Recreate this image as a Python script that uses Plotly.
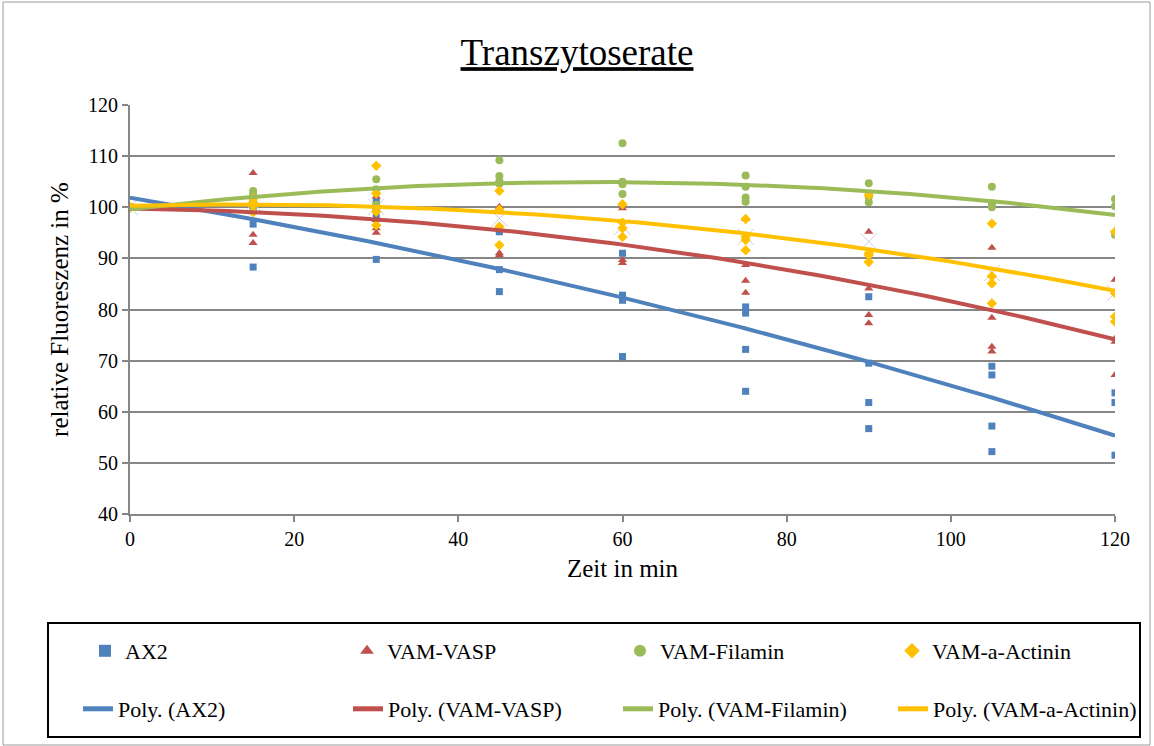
import numpy as np
import plotly.graph_objects as go

zeit = [0, 15, 30, 45, 60, 75, 90, 105, 120]

# Replikate je Zeitpunkt
ax2 = [
    [100, 101.0, 101.1, 95.5, 91.0, 80.5, 82.5, 68.9, 63.7],
    [100, 96.7, 100.1, 95.2, 82.8, 79.3, 69.5, 67.2, 61.8],
    [100, 88.3, 98.0, 87.8, 81.8, 72.2, 61.8, 57.2, 51.5],
    [100, 100.0, 89.8, 83.5, 70.8, 64.0, 56.7, 52.2, None],
]
vasp = [
    [100, 106.7, 102.1, 100.1, 100.5, 97.7, 95.2, 92.1, 85.8],
    [100, 99.0, 97.5, 99.5, 99.8, 88.7, 84.1, 78.4, 74.3],
    [100, 94.6, 95.9, 91.0, 89.7, 85.6, 78.9, 72.7, 73.7],
    [100, 93.0, 95.0, 90.6, 89.1, 83.3, 77.3, 71.8, 67.2],
]
filamin = [
    [100, 103.2, 105.5, 109.2, 112.5, 106.2, 104.7, 104.0, 101.6],
    [100, 102.5, 103.5, 106.1, 105.0, 104.0, 102.4, 100.8, 100.2],
    [100, 101.0, 100.5, 105.2, 104.5, 101.9, 102.0, 100.5, 94.6],
    [100, 100.0, 99.5, 104.6, 102.6, 101.1, 101.0, 100.0, None],
]
actinin = [
    [100, 101.7, 108.1, 103.2, 100.6, 97.7, 102.4, 96.8, 95.2],
    [100, 101.0, 102.7, 99.5, 97.0, 94.2, 91.0, 86.5, 83.2],
    [100, 100.5, 99.1, 96.2, 95.9, 93.6, 90.6, 85.1, 78.6],
    [100, 99.0, 96.5, 92.6, 94.2, 91.6, 89.3, 81.2, 77.6],
]
mittel = [100, 100.8, 100.1, 97.8, 96.2, 94.2, 93.3, 87.1, 83.2]

serien = [
    ("AX2", ax2, "#4F81BD", "square", 7),
    ("VAM-VASP", vasp, "#C0504D", "triangle-up", 8),
    ("VAM-Filamin", filamin, "#9BBB59", "circle", 8),
    ("VAM-a-Actinin", actinin, "#FFC000", "diamond", 8),
]

# Legendenpositionen (Pixel) je Spalte
leg_x_punkte = [85, 347, 620, 892]
leg_x_linien = [78, 348, 618, 893]

font = "Liberation Serif"
fig = go.Figure()

fig.add_trace(go.Scatter(x=zeit, y=mittel, mode="markers", showlegend=False,
                         marker=dict(symbol="x-thin-open", size=16, color="#CFCADF",
                                     line=dict(width=1, color="#CFCADF"))))

for i, (name, reps, col, sym, sz) in enumerate(serien):
    xs, ys = [], []
    for rep in reps:
        for t, v in zip(zeit, rep):
            if v is not None:
                xs.append(t)
                ys.append(v)
    lname = "legend" if i == 0 else "legend%d" % (i + 1)
    fig.add_trace(go.Scatter(x=xs, y=ys, mode="markers", name=name, legend=lname,
                             marker=dict(symbol=sym, size=sz, color=col)))

# polynomische Trendlinien (Ordnung 2), wie in Excel
tt = np.linspace(0, 120, 121)
for i, (name, reps, col, sym, sz) in enumerate(serien):
    xs = [t for rep in reps for t, v in zip(zeit, rep) if v is not None]
    ys = [v for rep in reps for v in rep if v is not None]
    coef = np.polyfit(xs, ys, 2)
    fig.add_trace(go.Scatter(x=tt, y=np.polyval(coef, tt), mode="lines",
                             name="Poly. (" + name + ")", legend="legend%d" % (i + 5),
                             line=dict(color=col, width=4)))

leg = dict(orientation="h", xanchor="left", yanchor="middle",
           font=dict(family=font, size=22, color="black"), bgcolor="rgba(0,0,0,0)",
           borderwidth=0, itemsizing="constant")
legenden = {}
for i in range(4):
    k1 = "legend" if i == 0 else "legend%d" % (i + 1)
    legenden[k1] = dict(leg, x=(leg_x_punkte[i] - 130) / 985, y=(514 - 651) / 409)
    legenden["legend%d" % (i + 5)] = dict(leg, x=(leg_x_linien[i] - 130) / 985,
                                          y=(514 - 709) / 409)

fig.update_layout(
    width=1154, height=746,
    margin=dict(l=130, r=39, t=105, b=232),
    paper_bgcolor="white", plot_bgcolor="white",
    font=dict(family=font, size=21, color="black"),
    title=dict(text="<u>Transzytoserate</u>", x=0.5, xanchor="center",
               y=0.93, yanchor="middle", font=dict(family=font, size=37)),
    shapes=[
        dict(type="rect", xref="paper", yref="paper",
             x0=(48 - 130) / 985, x1=(1140 - 130) / 985,
             y0=(514 - 737) / 409, y1=(514 - 623) / 409,
             line=dict(color="black", width=2)),
        dict(type="rect", xref="paper", yref="paper",
             x0=(3 - 130) / 985, x1=(1150 - 130) / 985,
             y0=(514 - 745) / 409, y1=(514 - 2) / 409,
             line=dict(color="#9A9A9A", width=1)),
    ],
    **legenden,
)
fig.update_xaxes(range=[0, 120], dtick=20, showgrid=False, showline=True,
                 linecolor="#868686", linewidth=2, ticks="outside", ticklen=6,
                 tickcolor="#868686", tickwidth=2, zeroline=False,
                 tickfont=dict(family=font, size=20, color="black"),
                 title=dict(text="Zeit in min", font=dict(family=font, size=25), standoff=10))
fig.update_yaxes(range=[40, 120], dtick=10, showgrid=True, gridcolor="#868686",
                 gridwidth=2, showline=True, linecolor="#868686", linewidth=2,
                 ticks="outside", ticklen=6, tickcolor="#868686", tickwidth=2,
                 zeroline=False, tickfont=dict(family=font, size=20, color="black"),
                 title=dict(text="relative Fluoreszenz in %", font=dict(family=font, size=25),
                            standoff=12))

# Standard-Rand des Body entfernen, damit die Figur bei (0,0) beginnt
fig.write_html("out.html", config={"displayModeBar": False},
               post_script="document.body.style.margin='0';")
